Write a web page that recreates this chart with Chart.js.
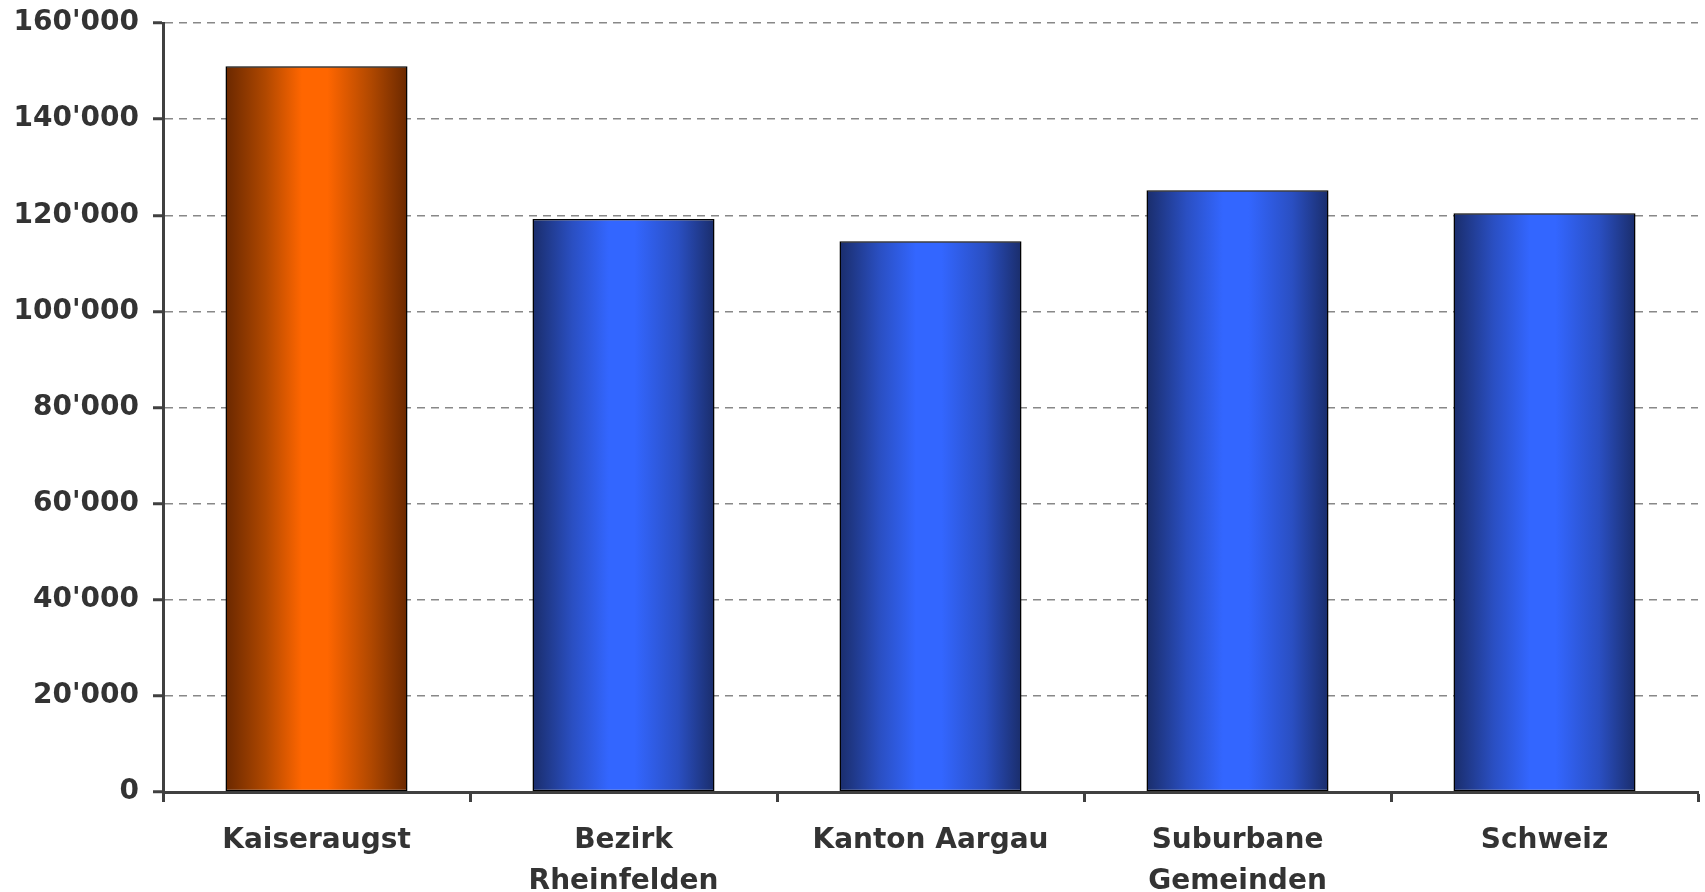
<!DOCTYPE html>
<html>
<head>
<meta charset="utf-8">
<script src="https://cdn.jsdelivr.net/npm/chart.js@4.4.1/dist/chart.umd.min.js"></script>
<style>
  html, body { margin: 0; padding: 0; background: #fff; }
  #wrap { width: 1705px; height: 892px; }
</style>
</head>
<body>
<div id="wrap"><canvas id="chart" width="1705" height="892"></canvas></div>
<script>
// ─── Data ─────────────────────────────────────────────────────────────────────

const categories = [
  'Kaiseraugst',
  ['Bezirk', 'Rheinfelden'],
  'Kanton Aargau',
  ['Suburbane', 'Gemeinden'],
  'Schweiz',
];
const values = [151000, 119200, 114600, 125200, 120400];
const yTicks = [0, 20000, 40000, 60000, 80000, 100000, 120000, 140000, 160000];

// ─── Styling helpers ──────────────────────────────────────────────────────────

const TEXT = '#333333';
const AXIS = '#404040';
const FONT = { family: 'DejaVu Sans', size: 28, weight: 'bold', lineHeight: 1.47 };

function formatTick(v) {
  return v === 0 ? '0' : String(v).replace(/\B(?=(\d{3})+(?!\d))/g, "'");
}

// horizontal "cylinder" gradient per bar: dark edges, bright middle
function barFill(context) {
  const chart = context.chart;
  const scale = chart.scales.x;
  if (!chart.chartArea || !scale) return '#3366ff';
  const center = scale.getPixelForValue(context.dataIndex);
  const half = (scale.width / categories.length) * 0.593 / 2;
  const g = chart.ctx.createLinearGradient(center - half, 0, center + half, 0);
  const [edge, mid, core] = context.dataIndex === 0
    ? ['#6a2800', '#b04800', '#ff6600']
    : ['#1a2d6b', '#2a4fc2', '#3366ff'];
  g.addColorStop(0, edge);
  g.addColorStop(0.22, mid);
  g.addColorStop(0.42, core);
  g.addColorStop(0.56, core);
  g.addColorStop(0.8, mid);
  g.addColorStop(1, edge);
  return g;
}

// ─── Chart ────────────────────────────────────────────────────────────────────

new Chart(document.getElementById('chart'), {
  type: 'bar',
  data: {
    labels: categories,
    datasets: [{
      data: values,
      backgroundColor: barFill,
      borderColor: '#000000',
      borderWidth: 1.5,
      borderSkipped: false,
      categoryPercentage: 0.593,
      barPercentage: 1.0,
    }],
  },
  options: {
    responsive: false,
    animation: false,
    layout: { padding: { top: 0, right: 7, left: 0, bottom: 0 } },
    plugins: { legend: { display: false }, tooltip: { enabled: false } },
    scales: {
      x: {
        grid: {
          offset: true,
          drawOnChartArea: false,
          tickLength: 10,
          tickColor: AXIS,
          tickWidth: 3,
        },
        border: { color: AXIS, width: 3 },
        ticks: { color: TEXT, font: FONT, padding: 18, maxRotation: 0, autoSkip: false },
        afterFit(scale) { scale.height = 100; },
      },
      y: {
        min: 0,
        max: 160000,
        afterBuildTicks(scale) { scale.ticks = yTicks.map(v => ({ value: v })); },
        grid: {
          color: '#888888',
          lineWidth: 1.5,
          tickLength: 10,
          tickColor: AXIS,
          tickWidth: 3,
        },
        border: { color: AXIS, width: 3, dash: [8, 6] },
        ticks: { color: TEXT, font: FONT, padding: 14, callback: formatTick },
        afterFit(scale) {
          scale.width = 163;
          scale.paddingTop = 23;
          scale.paddingBottom = 0;
        },
      },
    },
  },
});
</script>
</body>
</html>
